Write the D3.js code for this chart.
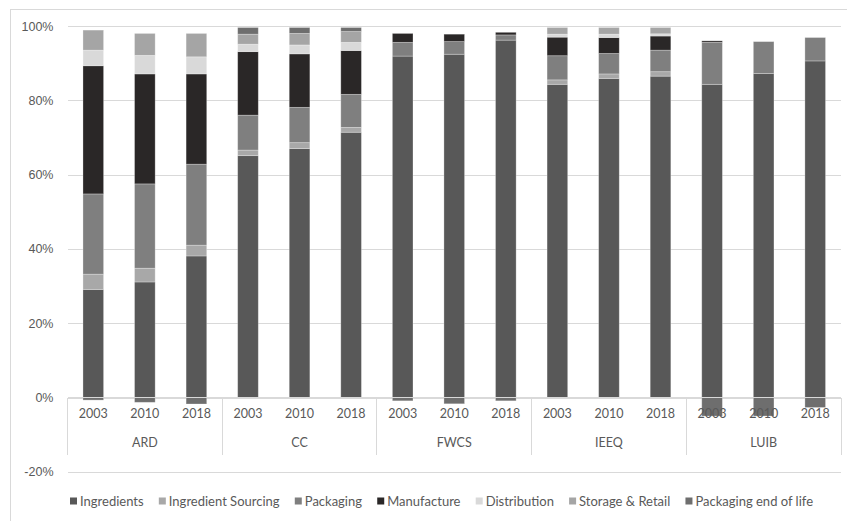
<!DOCTYPE html>
<html>
<head>
<meta charset="utf-8">
<script src="https://cdn.jsdelivr.net/npm/d3@7"></script>
<style>
  html, body { margin: 0; padding: 0; background: #ffffff; }
  svg { display: block; font-family: Lato, "Open Sans", "Liberation Sans", sans-serif; }
</style>
</head>
<body>
<svg id="chart" width="847" height="521"></svg>
<script>
// Study groups and the years assessed within each
const groups = ["ARD", "CC", "FWCS", "IEEQ", "LUIB"];
const years = ["2003", "2010", "2018"];

// Life-cycle stages, in stacking order
const stages = ["Ingredients", "Ingredient Sourcing", "Packaging", "Manufacture",
                "Distribution", "Storage & Retail", "Packaging end of life"];

// Share of impact per stage (%), one value per group/year (ARD 2003 … LUIB 2018)
const ingredients        = [29.1, 31.1, 38.1, 65.1, 67.0, 71.4, 91.9, 92.4, 96.2, 84.3, 85.9, 86.5, 84.3, 87.2, 90.6];
const ingredientSourcing = [ 4.1,  3.7,  2.9,  1.5,  1.6,  1.3,  0,    0,    0,    1.2,  1.2,  1.2,  0,    0,    0  ];
const packaging          = [21.6, 22.7, 21.8,  9.4,  9.5,  8.9,  3.7,  3.4,  1.4,  6.5,  5.5,  5.8, 11.3,  8.6,  6.3];
const manufacture        = [34.5, 29.6, 24.3, 17.1, 14.4, 11.8,  2.4,  2.0,  0.7,  5.0,  4.3,  3.8,  0.4,  0,    0  ];
const distribution       = [ 4.2,  5.0,  4.6,  2.0,  2.4,  2.2,  0,    0,    0,    0.8,  0.9,  0.6,  0,    0,    0  ];
const storageRetail      = [ 5.4,  5.9,  6.3,  2.7,  3.1,  2.9,  0,    0,    0,    1.8,  1.8,  1.7,  0,    0,    0  ];
const packagingEndOfLife = [-0.7, -1.3, -1.75, 1.8,  1.6,  1.1, -0.9, -1.7, -0.9,  0,    0,    0,   -5.0, -5.0, -2.7];

// Value-axis tick labels
const yTicks = [-20, 0, 20, 40, 60, 80, 100];

const stageValues = [ingredients, ingredientSourcing, packaging, manufacture,
                     distribution, storageRetail, packagingEndOfLife];
const stageColors = ["#585858", "#a8a8a8", "#7f7f7f", "#2a2727", "#d9d9d9", "#a5a5a5", "#6e6e6e"];

// Flat table: one row per bar
const rows = [];
groups.forEach((g, gi) => years.forEach((y, yi) => {
  const i = gi * years.length + yi;
  const row = { key: g + "|" + y, group: g, year: y };
  stages.forEach((s, si) => { row[s] = stageValues[si][i]; });
  rows.push(row);
}));

const svg = d3.select("#chart");
const plot = { left: 67.5, right: 841, top: 26, bottom: 397.5 };
const textColor = "#595959";
const gridColor = "#d9d9d9";

// Chart frame
svg.append("rect")
  .attr("x", 10.5).attr("y", 9.5).attr("width", 850).attr("height", 520)
  .attr("fill", "none").attr("stroke", gridColor).attr("stroke-width", 1);

const x = d3.scaleBand()
  .domain(rows.map(d => d.key))
  .range([plot.left, plot.right])
  .paddingInner(0.6)
  .paddingOuter(0.3);

const y = d3.scaleLinear().domain([0, 100]).range([plot.bottom, plot.top]);

// Gridlines and value labels
const yAxis = d3.axisLeft(y)
  .tickValues(yTicks)
  .tickFormat(d => d + "%")
  .tickSize(-(plot.right - plot.left))
  .tickPadding(14);

const gy = svg.append("g")
  .attr("transform", `translate(${plot.left},0)`)
  .call(yAxis);
gy.select(".domain").remove();
gy.selectAll(".tick line").attr("stroke", gridColor).attr("stroke-width", 1)
  .attr("shape-rendering", "crispEdges");
gy.selectAll(".tick text")
  .attr("fill", textColor).attr("font-size", 12.5);

// Stacked bars (negative values stack downward from zero)
const stack = d3.stack().keys(stages).offset(d3.stackOffsetDiverging);
const series = stack(rows);

svg.append("g").selectAll("g")
  .data(series)
  .join("g")
  .attr("fill", (d, i) => stageColors[i])
  .selectAll("rect")
  .data(d => d.filter(p => p[1] !== p[0]))
  .join("rect")
  .attr("x", d => x(d.data.key))
  .attr("width", x.bandwidth())
  .attr("y", d => y(Math.max(d[0], d[1])))
  .attr("height", d => Math.abs(y(d[0]) - y(d[1])))
  .attr("stroke", "#ffffff")
  .attr("stroke-opacity", 0.35)
  .attr("stroke-width", 0.8);

// Category axis: zero line, group separators, year and group labels
const axisG = svg.append("g");
const sepBottom = 455;
axisG.append("line")
  .attr("x1", plot.left).attr("x2", plot.right)
  .attr("y1", y(0)).attr("y2", y(0))
  .attr("stroke", gridColor).attr("shape-rendering", "crispEdges");

const step = x.step();
const groupEdges = groups.map((g, gi) => x(g + "|" + years[0]) - x.paddingInner() * step / 2 -
  (gi === 0 ? (x.paddingOuter() - x.paddingInner() / 2) * step : 0));
groupEdges.push(plot.right);
axisG.selectAll("line.sep")
  .data(groupEdges)
  .join("line")
  .attr("class", "sep")
  .attr("x1", d => d).attr("x2", d => d)
  .attr("y1", y(0)).attr("y2", sepBottom)
  .attr("stroke", gridColor).attr("shape-rendering", "crispEdges");

axisG.selectAll("text.year")
  .data(rows)
  .join("text")
  .attr("class", "year")
  .attr("x", d => x(d.key) + x.bandwidth() / 2)
  .attr("y", 414)
  .attr("dy", "0.35em")
  .attr("text-anchor", "middle")
  .attr("fill", textColor)
  .attr("font-size", 12.5)
  .text(d => d.year);

axisG.selectAll("text.group")
  .data(groups)
  .join("text")
  .attr("class", "group")
  .attr("x", (g, gi) => (groupEdges[gi] + groupEdges[gi + 1]) / 2)
  .attr("y", 443)
  .attr("dy", "0.35em")
  .attr("text-anchor", "middle")
  .attr("fill", textColor)
  .attr("font-size", 12.5)
  .text(g => g);

// Legend along the bottom
const legend = svg.append("g");
const legendY = 501;
const marker = 7, markerGap = 3;
const items = legend.selectAll("g")
  .data(stages)
  .join("g");
items.append("rect")
  .attr("width", marker).attr("height", marker)
  .attr("y", legendY - marker / 2)
  .attr("fill", (d, i) => stageColors[i]);
items.append("text")
  .attr("x", marker + markerGap)
  .attr("y", legendY)
  .attr("dy", "0.35em")
  .attr("fill", textColor)
  .attr("font-size", 13)
  .text(d => d);

const widths = [];
items.each(function () {
  widths.push(marker + markerGap + d3.select(this).select("text").node().getComputedTextLength());
});
const legendLeft = 70, legendRight = 813;
const gap = (legendRight - legendLeft - d3.sum(widths)) / (stages.length - 1);
let cx = legendLeft;
items.attr("transform", (d, i) => {
  const t = `translate(${cx},0)`;
  cx += widths[i] + gap;
  return t;
});
</script>
</body>
</html>
